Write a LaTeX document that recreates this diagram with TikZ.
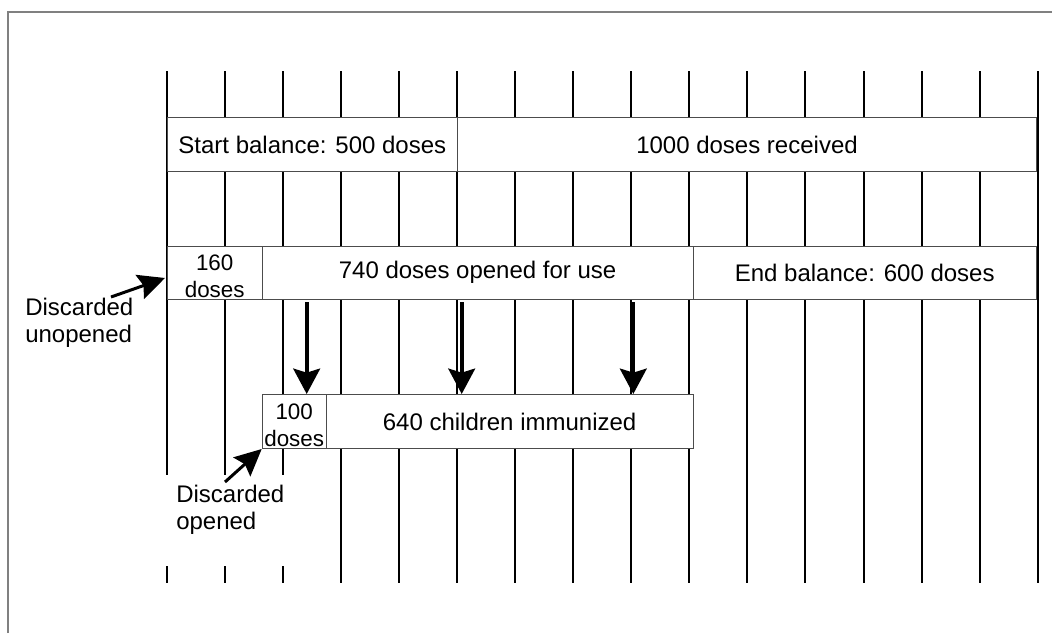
\documentclass[tikz,border=0pt]{standalone}
\usepackage{fontspec}
\setmainfont{Liberation Sans}
\usetikzlibrary{arrows.meta}
\begin{document}
\begin{tikzpicture}[x=0.75pt,y=-0.75pt,
  gridline/.style={line width=1.5pt},
  box/.style={draw=black!70,line width=0.75pt,fill=white,rectangle,inner sep=0pt,anchor=north west},
  big/.style={font=\fontsize{18}{20.25}\selectfont},
  small/.style={font=\fontsize{16.8}{20.25}\selectfont},
  downarrow/.style={line width=3pt,-{Stealth[width=20pt,length=19pt,inset=3pt]}},
  sidearrow/.style={line width=2.25pt,-{Stealth[width=19pt,length=20pt,inset=3pt]}}]
\useasboundingbox (0,0) rectangle (1052,633);
\draw[gray,line width=1.5pt] (8,633) -- (8,12) -- (1052,12);
% vertical grid lines
\foreach \i in {0,...,15}{
  \pgfmathsetmacro\xx{166.7+58.07*\i}
  \ifnum\i<3
    \draw[gridline] (\xx,71) -- (\xx,475);
    \draw[gridline] (\xx,566) -- (\xx,583);
  \else
    \draw[gridline] (\xx,71) -- (\xx,583);
  \fi
}
% row 1
\node[box,big,minimum width=217.7pt,minimum height=40.5pt] (start) at (166.7,117) {Start balance: 500 doses};
\node[box,big,minimum width=434.25pt,minimum height=40.5pt] (recv) at (457,117) {1000 doses received};
% row 2
\node[box,minimum width=71.25pt,minimum height=39.75pt,
  label={[small,align=center,yshift=-3pt]center:160\\doses}] (b160) at (166.7,245.5) {};
\node[box,big,minimum width=323.1pt,minimum height=39.75pt] (b740) at (261.7,245.5) {740 doses opened for use};
\node[box,big,minimum width=257.6pt,minimum height=39.75pt] (endb) at (692.5,245.5) {End balance: 600 doses};
% row 3
\node[box,minimum width=48pt,minimum height=40.5pt,
  label={[small,align=center,yshift=-3pt]center:100\\doses}] (b100) at (261.7,394) {};
\node[box,big,minimum width=275.1pt,minimum height=40.5pt] (b640) at (325.7,394) {640 children immunized};
% down arrows
\coordinate (c1) at (306.7,0);
\coordinate (c2) at (461.7,0);
\coordinate (c3) at (633.3,0);
\draw[downarrow] ([yshift=-2pt]c1 |- b740.south) -- (c1 |- b100.north);
\draw[downarrow] ([yshift=-2pt]c2 |- b740.south) -- (c2 |- b640.north);
\draw[downarrow] ([yshift=-2pt]c3 |- b740.south) -- (c3 |- b640.north);
% discarded labels
\node[big,align=left,anchor=north west,inner sep=0pt] (du) at (25,297.5) {Discarded\\unopened};
\node[big,align=left,anchor=north west,inner sep=0pt] (dop) at (176,485) {Discarded\\opened};
\coordinate (duTail) at (111,297);
\coordinate (duTip) at (165,278);
\draw[sidearrow] (duTail) -- (duTip);
\coordinate (doTail) at (225,482);
\draw[sidearrow] (doTail) -- (b100.south west);
\end{tikzpicture}
\end{document}
